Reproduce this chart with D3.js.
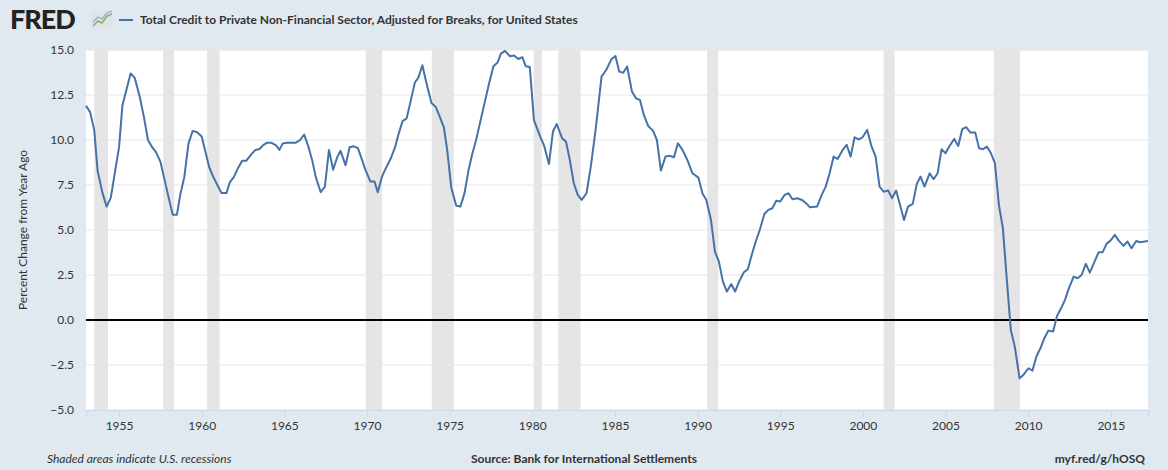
<!DOCTYPE html>
<html><head><meta charset="utf-8">
<script src="https://cdn.jsdelivr.net/npm/d3@7"></script>
<style>body{margin:0;background:#e1e9f0;font-family:"Open Sans",Arial,sans-serif}</style>
</head><body><svg id="c" width="1168" height="470"></svg>
<script>
const years = [1953.0,1953.25,1953.5,1953.7,1954.0,1954.25,1954.5,1954.75,1955.0,1955.2,1955.45,1955.7,1955.95,1956.25,1956.5,1956.75,1957.0,1957.25,1957.5,1957.75,1958.0,1958.25,1958.5,1958.7,1958.95,1959.2,1959.45,1959.7,1960.0,1960.2,1960.45,1960.7,1960.95,1961.2,1961.5,1961.7,1961.95,1962.2,1962.45,1962.7,1963.0,1963.25,1963.5,1963.7,1963.95,1964.2,1964.5,1964.7,1964.9,1965.15,1965.7,1965.95,1966.2,1966.45,1966.7,1966.9,1967.2,1967.45,1967.7,1967.95,1968.2,1968.4,1968.7,1968.95,1969.2,1969.45,1969.7,1969.9,1970.2,1970.45,1970.65,1970.9,1971.15,1971.45,1971.7,1971.9,1972.15,1972.4,1972.65,1972.9,1973.1,1973.35,1973.6,1973.9,1974.15,1974.4,1974.65,1974.85,1975.1,1975.4,1975.65,1975.9,1976.15,1976.35,1976.6,1976.9,1977.15,1977.4,1977.65,1977.9,1978.1,1978.35,1978.65,1978.9,1979.15,1979.4,1979.6,1979.85,1980.1,
1980.48,1980.72,1981.01,1981.25,1981.48,1981.8,1982.04,1982.27,1982.51,1982.75,1982.99,1983.28,1983.54,1983.83,1984.19,1984.48,1984.79,1985.03,1985.26,1985.5,1985.74,1986.03,1986.27,1986.51,1986.75,1987.01,1987.3,1987.54,1987.78,1988.06,1988.33,1988.57,1988.81,1989.09,1989.38,1989.69,1990.05,1990.29,1990.53,1990.81,1991.05,1991.29,1991.53,1991.77,1992.04,1992.27,1992.51,1992.8,1993.04,1993.28,1993.52,1993.76,1994.04,1994.28,1994.52,1994.76,1995.0,1995.27,1995.5,1995.74,1996.03,1996.32,1996.56,1996.8,1997.23,1997.51,1997.75,1997.99,1998.23,1998.47,1998.78,1999.02,1999.26,1999.5,1999.74,1999.98,2000.26,2000.53,2000.77,2001.01,2001.25,2001.53,2001.77,2002.01,2002.25,2002.49,2002.73,2003.02,2003.26,2003.49,2003.73,2004.04,2004.28,2004.52,2004.76,2005.0,2005.24,2005.53,2005.77,2006.01,2006.25,2006.51,2006.8,2007.03,2007.27,2007.51,2007.75,2007.99,2008.23,2008.47,2008.71,2008.95,2009.19,2009.48,2009.71,2010.02,2010.26,2010.5,2010.74,2010.98,2011.22,2011.51,2011.75,2011.99,2012.23,2012.46,2012.75,2012.99,2013.23,2013.49,2013.73,2013.97,2014.26,2014.5,2014.74,2014.98,2015.24,2015.48,2015.77,2016.01,2016.25,2016.54,2016.77,2017.25];
const values = [11.9,11.55,10.55,8.3,7.05,6.3,6.8,8.2,9.6,11.9,12.8,13.7,13.45,12.4,11.3,10.0,9.6,9.3,8.8,7.8,6.8,5.85,5.85,6.95,7.95,9.8,10.5,10.45,10.2,9.45,8.5,7.95,7.5,7.05,7.05,7.65,7.95,8.45,8.85,8.85,9.2,9.45,9.5,9.7,9.85,9.85,9.7,9.45,9.8,9.85,9.85,10.0,10.3,9.65,8.8,7.95,7.1,7.4,9.45,8.35,9.05,9.4,8.6,9.6,9.65,9.55,8.9,8.35,7.7,7.7,7.1,7.95,8.45,9.0,9.6,10.3,11.05,11.2,12.2,13.2,13.45,14.15,13.15,12.05,11.85,11.3,10.7,9.45,7.35,6.35,6.3,7.05,8.35,9.15,10.0,11.2,12.2,13.2,14.1,14.3,14.8,14.95,14.65,14.7,14.5,14.6,14.1,14.05,11.1,
10.19,9.67,8.67,10.47,10.89,10.1,9.91,8.89,7.6,6.95,6.67,7.04,8.52,10.56,13.52,13.9,14.49,14.67,13.8,13.74,14.08,12.69,12.32,12.23,11.39,10.78,10.52,10.0,8.3,9.08,9.12,9.04,9.82,9.45,8.89,8.15,7.91,7.04,6.67,5.56,3.8,3.24,2.13,1.58,2.0,1.58,2.13,2.65,2.82,3.62,4.36,5.0,5.89,6.12,6.21,6.62,6.58,6.95,7.04,6.71,6.76,6.67,6.49,6.26,6.3,6.95,7.41,8.15,9.08,8.95,9.45,9.73,9.08,10.15,10.04,10.15,10.56,9.63,9.08,7.41,7.13,7.19,6.76,7.19,6.39,5.56,6.3,6.45,7.56,7.97,7.41,8.15,7.82,8.15,9.49,9.26,9.67,10.06,9.67,10.6,10.71,10.41,10.41,9.54,9.49,9.63,9.26,8.71,6.39,5.1,2.23,-0.55,-1.48,-3.24,-3.05,-2.68,-2.81,-2.03,-1.57,-1.01,-0.59,-0.64,0.23,0.65,1.12,1.76,2.41,2.32,2.5,3.12,2.63,3.15,3.76,3.76,4.23,4.41,4.73,4.41,4.12,4.36,3.99,4.39,4.32,4.39];
const recStart = [1953.5,1957.67,1960.33,1969.92,1973.92,1980.08,1981.58,1990.58,2001.25,2007.92];
const recEnd   = [1954.33,1958.33,1961.08,1970.92,1975.25,1980.58,1982.92,1991.25,2001.92,2009.5];
const yTicks = [-5,-2.5,0,2.5,5,7.5,10,12.5,15];
const xTicks = [1955,1960,1965,1970,1975,1980,1985,1990,1995,2000,2005,2010,2015];

const svg = d3.select("#c");
const L=86,R=1148,T=50,B=410;
const x = d3.scaleLinear().domain([1953,2017.25]).range([L,R]);
const y = d3.scaleLinear().domain([-5,15]).range([B,T]);
svg.append("rect").attr("x",L).attr("y",T).attr("width",R-L).attr("height",B-T).attr("fill","#fff");
recStart.forEach((s,i)=>svg.append("rect").attr("x",x(s)).attr("y",T).attr("width",x(recEnd[i])-x(s)).attr("height",B-T).attr("fill","#e5e5e5"));
svg.selectAll(".g").data(yTicks).enter().append("line").attr("x1",L).attr("x2",R).attr("y1",d=>y(d)).attr("y2",d=>y(d)).attr("stroke","#e6e6e6").attr("stroke-width",1);
svg.append("line").attr("x1",L).attr("x2",R).attr("y1",y(0)).attr("y2",y(0)).attr("stroke","#000").attr("stroke-width",2);
const ya = svg.append("g").attr("transform",`translate(${L},0)`).call(d3.axisLeft(y).tickValues(yTicks).tickFormat(d3.format(".1f")).tickSize(0).tickPadding(12));
ya.select(".domain").remove();
ya.selectAll("text").attr("font-size",12).attr("fill","#333").attr("font-family","Lato, 'Open Sans', sans-serif");
const xa = svg.append("g").attr("transform",`translate(0,${B})`).call(d3.axisBottom(x).tickValues(xTicks).tickFormat(d3.format("d")).tickSize(7).tickPadding(4));
xa.select(".domain").attr("stroke","#ccd6eb");
xa.selectAll("line").attr("stroke","#ccd6eb");
xa.selectAll("text").attr("font-size",12).attr("fill","#333").attr("font-family","Lato, 'Open Sans', sans-serif");
const pts = years.map((d,i)=>[d,values[i]]);
svg.append("path").datum(pts).attr("fill","none").attr("stroke","#4572a7").attr("stroke-width",2).attr("stroke-linejoin","round")
  .attr("d",d3.line().x(d=>x(d[0])).y(d=>y(d[1])));
svg.append("text").attr("x",10).attr("y",29).text("FRED").attr("font-size",27).attr("font-weight",900).attr("fill","#222").attr("font-family","Lato, 'Open Sans', sans-serif").attr("letter-spacing",-1);
svg.append("rect").attr("x",91).attr("y",10).attr("width",22).attr("height",20).attr("fill","#dde4ea").attr("rx",2);
svg.append("polyline").attr("points","93,26 98,21 102,23 107,16 112,14").attr("fill","none").attr("stroke","#8bb04a").attr("stroke-width",1.5);
svg.append("polyline").attr("points","93,22 98,17 102,19 107,13 112,11").attr("fill","none").attr("stroke","#8aa8c8").attr("stroke-width",1.2);
svg.append("line").attr("x1",119).attr("x2",133).attr("y1",20).attr("y2",20).attr("stroke","#4572a7").attr("stroke-width",2);
svg.append("text").attr("x",140).attr("y",24).text("Total Credit to Private Non-Financial Sector, Adjusted for Breaks, for United States").attr("font-size",12).attr("font-weight",700).attr("fill","#333").attr("font-family","Lato, 'Open Sans', sans-serif");
svg.append("text").attr("transform","translate(27,230) rotate(-90)").attr("text-anchor","middle").text("Percent Change from Year Ago").attr("font-size",12).attr("fill","#333").attr("font-family","Lato, 'Open Sans', sans-serif");
svg.append("text").attr("x",47).attr("y",463).text("Shaded areas indicate U.S. recessions").attr("font-size",12).attr("font-style","italic").attr("fill","#333").attr("font-family","Lato, 'Open Sans', sans-serif");
svg.append("text").attr("x",584).attr("y",463).attr("text-anchor","middle").text("Source: Bank for International Settlements").attr("font-size",12).attr("font-weight",700).attr("fill","#333").attr("font-family","Lato, 'Open Sans', sans-serif");
svg.append("text").attr("x",1145).attr("y",463).attr("text-anchor","end").text("myf.red/g/hOSQ").attr("font-size",12).attr("font-weight",700).attr("fill","#333").attr("font-family","Lato, 'Open Sans', sans-serif");
</script></body></html>
